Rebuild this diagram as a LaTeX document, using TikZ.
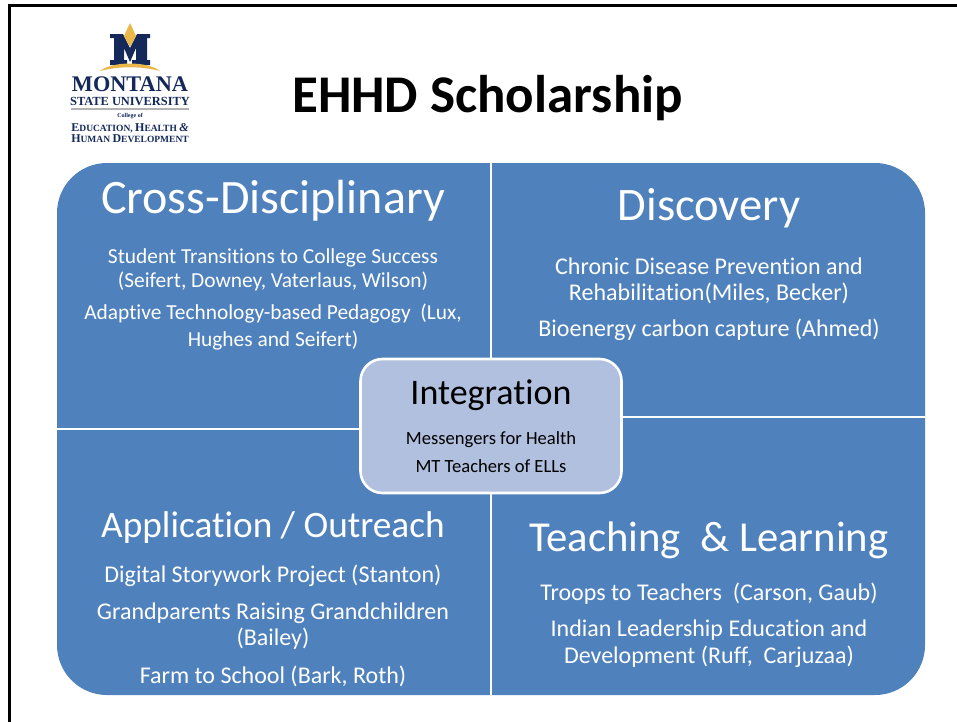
\documentclass[tikz,border=0pt]{standalone}
\usepackage{fontspec}
\setmainfont[RawFeature={-liga;-clig;-calt}]{Carlito}
\newfontfamily\serifl{Liberation Serif}
\definecolor{cellblue}{HTML}{4F81BD}
\definecolor{midblue}{HTML}{B0C0DE}
\definecolor{navy}{HTML}{14285A}
\definecolor{gold}{HTML}{E8B84A}
\newcommand{\bigc}[1]{{\fontsize{12}{12}\selectfont #1}}
\newcommand{\smc}[1]{{\fontsize{9.5}{12}\selectfont #1}}
\tikzset{
  head/.style={text=white,font=\fontsize{#1}{#1}\selectfont,align=center,inner sep=0pt},
  body/.style={text=white,font=\fontsize{24}{26.5}\selectfont,align=center,inner sep=0pt},
  bodysmall/.style={text=white,font=\fontsize{21.4}{24}\selectfont,align=center,inner sep=0pt},
  bodysmallb/.style={text=white,font=\fontsize{21.4}{27}\selectfont,align=center,inner sep=0pt},
  divider/.style={draw=white,line width=2.6pt},
  midline/.style={inner sep=0pt,font=\fontsize{18.6}{18.6}\selectfont},
  logotext/.style={text=navy,inner sep=0pt}
}
\begin{document}
\begin{tikzpicture}[x=1pt,y=-1pt]
\useasboundingbox (0,0) rectangle (957,721);
\fill[white] (0,0) rectangle (957,721);
% frame
\draw[black,line width=3pt] (9,725) -- (9,5.5) -- (960,5.5);
% logo
\fill[navy] (110,34) -- (123,34) -- (130,48) -- (137,34) -- (150,34) -- (150,38) -- (147,38) -- (147,60) -- (150,60) -- (150,65) -- (132,65) -- (132,60) -- (136,60) -- (136,48) -- (130,62) -- (124,48) -- (124,60) -- (127,60) -- (127,65) -- (110,65) -- (110,60) -- (114,60) -- (114,38) -- (110,38) -- cycle;
\fill[gold] (130,23) -- (136,36) -- (130,47) -- (124,36) -- cycle;
\fill[gold] (100,71) .. controls (112,61) and (148,61) .. (160,71) .. controls (140,66) and (120,66) .. (100,71) -- cycle;
\node[logotext,font=\serifl\bfseries\fontsize{22.3}{22}\selectfont] (lg1) at (130,84) {MONTANA};
\node[logotext,font=\serifl\bfseries\fontsize{12.4}{13}\selectfont] (lg2) at (130,101.5) {STATE UNIVERSITY};
\fill[gray!60] (71,108) rectangle (189,109.5);
\node[logotext,font=\serifl\bfseries\fontsize{6}{6}\selectfont] (lg3) at (130,116) {College of};
\node[logotext,font=\serifl\bfseries] (lg4) at (130,128) {\bigc{E}\smc{DUCATION, }\bigc{H}\smc{EALTH }\bigc{\itshape\&}};
\node[logotext,font=\serifl\bfseries] (lg5) at (130,139) {\bigc{H}\smc{UMAN }\bigc{D}\smc{EVELOPMENT}};
% title
\node[inner sep=0pt,font=\bfseries\fontsize{53}{53}\selectfont] (title) at (487.5,98) {EHHD Scholarship};
% cells
\fill[cellblue,rounded corners=50pt] (57,163) rectangle (925,695);
\draw[divider] (491,163) -- (491,695);
\draw[divider] (57,429) -- (491,429);
\draw[divider] (491,417) -- (925,417);
% centre
\node[draw=white,line width=2.6pt,fill=midblue,rounded corners=22pt,minimum width=261pt,minimum height=134pt,inner sep=0pt] (mid) at (491,426) {};
\node[inner sep=0pt,font=\fontsize{36}{36}\selectfont] (midh) at (491,395) {Integration};
\node[midline] (mid1) at (491,440) {Messengers for Health};
\node[midline] (mid2) at (491,466) {MT Teachers of ELLs};
% quadrant 1
\node[head=48] (h1) at (273,201) {Cross-Disciplinary};
\node[bodysmall] (b1a) at (273,270) {Student Transitions to College Success\\(Seifert, Downey, Vaterlaus, Wilson)};
\node[bodysmallb] (b1b) at (273,327) {Adaptive Technology-based Pedagogy~~(Lux,\\Hughes and Seifert)};
% quadrant 2
\node[head=46.6] (h2) at (709,208) {Discovery};
\node[body] (b2a) at (709,281) {Chronic Disease Prevention and\\Rehabilitation(Miles, Becker)};
\node[body] (b2b) at (709,329.5) {Bioenergy carbon capture (Ahmed)};
% quadrant 3
\node[head=37.3] (h3) at (273,528) {Application / Outreach};
\node[body] (b3a) at (273,576) {Digital Storywork Project (Stanton)};
\node[body] (b3b) at (273,626) {Grandparents Raising Grandchildren\\(Bailey)};
\node[body] (b3c) at (273,676) {Farm to School (Bark, Roth)};
% quadrant 4
\node[head=42.7] (h4) at (709,540) {Teaching~~\&~Learning};
\node[body] (b4a) at (709,594) {Troops to Teachers~~(Carson, Gaub)};
\node[body] (b4b) at (709,643.5) {Indian Leadership Education and\\Development (Ruff,~~Carjuzaa)};
\end{tikzpicture}
\end{document}
